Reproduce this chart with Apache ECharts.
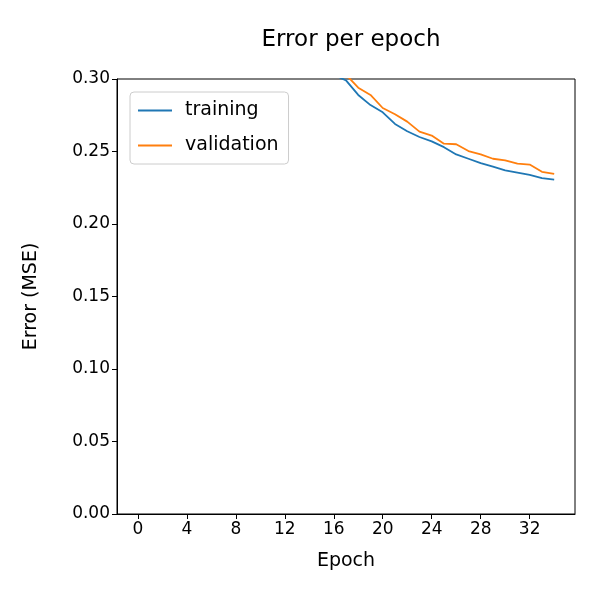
<!DOCTYPE html>
<html><head><meta charset="utf-8">
<script src="https://cdn.jsdelivr.net/npm/echarts@6/dist/echarts.min.js"></script>
<style>html,body{margin:0;padding:0;background:#fff}#c{width:600px;height:600px}</style>
</head><body><div id="c"></div>
<script>
const epochs = [0,1,2,3,4,5,6,7,8,9,10,11,12,13,14,15,16,17,18,19,20,21,22,23,24,25,26,27,28,29,30,31,32,33,34];
const training = [0.62,0.52,0.47,0.44,0.415,0.395,0.378,0.364,0.352,0.342,0.334,0.327,0.32,0.315,0.31,0.306,0.303,0.299,0.289,0.282,0.277,0.269,0.264,0.260,0.257,0.253,0.248,0.245,0.242,0.2395,0.237,0.2354,0.2338,0.2317,0.2306];
const validation = [0.60,0.51,0.47,0.44,0.418,0.40,0.384,0.37,0.358,0.348,0.34,0.333,0.327,0.321,0.316,0.311,0.307,0.303,0.294,0.289,0.280,0.2757,0.2706,0.2637,0.261,0.2554,0.255,0.2503,0.248,0.245,0.2439,0.2416,0.241,0.236,0.2345];
const xTicks = [0,4,8,12,16,20,24,28,32];
const font = 'DejaVu Sans';
const chart = echarts.init(document.getElementById('c'));
chart.setOption({
  animation:false,
  textStyle:{fontFamily:font},
  title:{text:'Error per epoch',left:346,textAlign:'center',top:24,textStyle:{fontFamily:font,fontSize:23,fontWeight:'normal',color:'#000'}},
  legend:{orient:'vertical',left:130,top:92,itemWidth:34,itemHeight:2,itemGap:16,padding:[9,10,9,8],
    borderColor:'#ccc',borderWidth:1,borderRadius:4,backgroundColor:'rgba(255,255,255,0.8)',
    textStyle:{fontFamily:font,fontSize:19,color:'#000',padding:[0,0,0,8]},
    data:[{name:'training',icon:'rect'},{name:'validation',icon:'rect'}]},
  grid:{left:117,right:25,top:79,bottom:86,show:true,borderColor:'#000',borderWidth:1,containLabel:false},
  xAxis:{type:'value',min:-1.7,max:35.7,name:'Epoch',nameLocation:'middle',nameGap:38,
    nameTextStyle:{fontFamily:font,fontSize:19,color:'#000'},
    splitLine:{show:false},axisLine:{onZero:false,lineStyle:{color:'#000'}},
    axisTick:{show:true,customValues:xTicks,length:5,lineStyle:{color:'#000'}},
    axisLabel:{customValues:xTicks,fontSize:17,color:'#000',margin:7}},
  yAxis:{type:'value',min:0,max:0.3,interval:0.05,name:'Error (MSE)',nameLocation:'middle',nameGap:76,
    nameTextStyle:{fontFamily:font,fontSize:19,color:'#000'},
    splitLine:{show:false},axisLine:{show:true,onZero:false,lineStyle:{color:'#000'}},
    axisTick:{show:true,length:5,lineStyle:{color:'#000'}},
    axisLabel:{fontSize:17,color:'#000',margin:7,formatter:v=>v.toFixed(2)}},
  series:[
    {name:'training',type:'line',data:epochs.map((e,i)=>[e,training[i]]),showSymbol:false,clip:true,lineStyle:{width:1.8,color:'#1f77b4'},itemStyle:{color:'#1f77b4'}},
    {name:'validation',type:'line',data:epochs.map((e,i)=>[e,validation[i]]),showSymbol:false,clip:true,lineStyle:{width:1.8,color:'#ff7f0e'},itemStyle:{color:'#ff7f0e'}}
  ]
});
</script></body></html>
